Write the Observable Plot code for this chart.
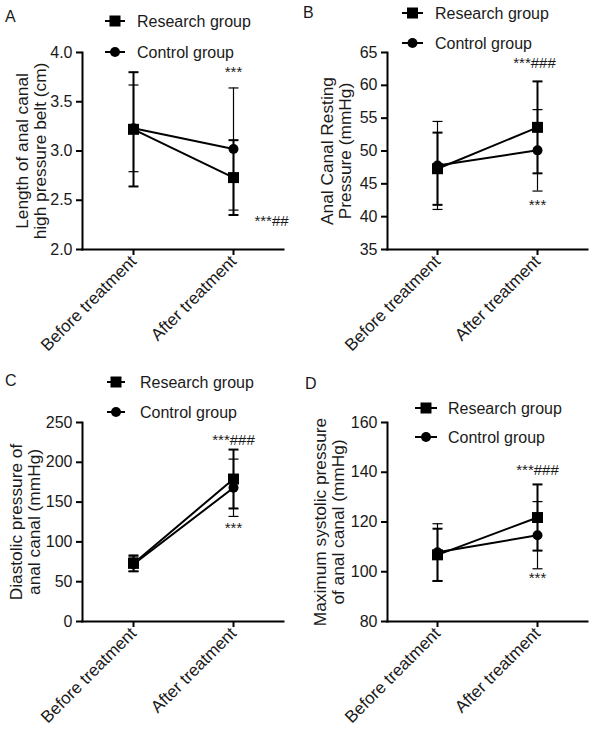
<!DOCTYPE html>
<html>
<head>
<meta charset="utf-8">
<script src="https://cdn.jsdelivr.net/npm/d3@7"></script>
<script src="https://cdn.jsdelivr.net/npm/@observablehq/plot@0.6"></script>
<style>
  html, body { margin: 0; padding: 0; background: white; }
  #root { position: relative; width: 600px; height: 731px; font-family: "Liberation Sans", Arial, sans-serif; }
  .panel { position: absolute; }
  #overlay { position: absolute; left: 0; top: 0; pointer-events: none; }
</style>
</head>
<body>
<div id="root"></div>
<script>
// ---------- data ----------
const categories = ["Before treatment", "After treatment"];
const groups = ["Research group", "Control group"];

// A: length of anal canal high pressure belt (cm)
const lengthResearch = [3.22, 2.73];
const lengthResearchSD = [0.58, 0.38];
const lengthControl = [3.23, 3.02];
const lengthControlSD = [0.44, 0.62];
const lengthTicks = [2.0, 2.5, 3.0, 3.5, 4.0];
const lengthAnnotations = [
  {cat: "After treatment", y: 3.80, text: "***", dx: 0},
  {cat: "After treatment", y: 2.29, text: "***##", dx: 38}
];

// B: anal canal resting pressure (mmHg)
const restingResearch = [47.3, 53.6];
const restingResearchSD = [5.5, 7.0];
const restingControl = [47.8, 50.1];
const restingControlSD = [6.7, 6.2];
const restingTicks = [35, 40, 45, 50, 55, 60, 65];
const restingAnnotations = [
  {cat: "After treatment", y: 63.3, text: "***###", dx: -3},
  {cat: "After treatment", y: 41.8, text: "***", dx: 0}
];

// C: diastolic pressure of anal canal (mmHg)
const diastolicResearch = [73, 179];
const diastolicResearchSD = [10, 37];
const diastolicControl = [72, 168];
const diastolicControlSD = [9, 36];
const diastolicTicks = [0, 50, 100, 150, 200, 250];
const diastolicAnnotations = [
  {cat: "After treatment", y: 228, text: "***###", dx: 0},
  {cat: "After treatment", y: 117, text: "***", dx: 0}
];

// D: maximum systolic pressure of anal canal (mmHg)
const systolicResearch = [106.8, 121.8];
const systolicResearchSD = [10.5, 13.3];
const systolicControl = [107.8, 114.7];
const systolicControlSD = [11.5, 13.5];
const systolicTicks = [80, 100, 120, 140, 160];
const systolicAnnotations = [
  {cat: "After treatment", y: 141, text: "***###", dx: 0},
  {cat: "After treatment", y: 97.5, text: "***", dx: 0}
];

const yTitles = {
  A: "Length of anal canal\nhigh pressure belt (cm)",
  B: "Anal Canal Resting\nPressure (mmHg)",
  C: "Diastolic pressure of\nanal canal (mmHg)",
  D: "Maximum systolic pressure\nof anal canal (mmHg)"
};

// ---------- layout ----------
const FONT = "'Liberation Sans', Arial, sans-serif";
const INK = "#1a1a1a";

const panels = [
  {id: "A", left: 0, top: 0, w: 300, h: 365, mt: 52, mb: 116, ml: 82, mr: 17,
   domain: [2, 4], ticks: lengthTicks, fmt: d3.format(".1f"),
   r: lengthResearch, rsd: lengthResearchSD, c: lengthControl, csd: lengthControlSD,
   ann: lengthAnnotations, titleDx: -51,
   legend: {x1: 105, x2: 125, yR: 21, yC: 52, tx: 137}, letter: {x: 5, y: 22}},
  {id: "B", left: 300, top: 0, w: 300, h: 365, mt: 52, mb: 116, ml: 87, mr: 13,
   domain: [35, 65], ticks: restingTicks, fmt: d3.format("d"),
   r: restingResearch, rsd: restingResearchSD, c: restingControl, csd: restingControlSD,
   ann: restingAnnotations, titleDx: -51,
   legend: {x1: 402, x2: 423, yR: 13, yC: 43, tx: 435}, letter: {x: 303, y: 18}},
  {id: "C", left: 0, top: 365, w: 300, h: 366, mt: 57, mb: 110, ml: 82, mr: 17,
   domain: [0, 250], ticks: diastolicTicks, fmt: d3.format("d"),
   r: diastolicResearch, rsd: diastolicResearchSD, c: diastolicControl, csd: diastolicControlSD,
   ann: diastolicAnnotations, titleDx: -57,
   legend: {x1: 107, x2: 125, yR: 382, yC: 412, tx: 140}, letter: {x: 5, y: 386}},
  {id: "D", left: 300, top: 365, w: 300, h: 366, mt: 57, mb: 110, ml: 87, mr: 13,
   domain: [80, 160], ticks: systolicTicks, fmt: d3.format("d"),
   r: systolicResearch, rsd: systolicResearchSD, c: systolicControl, csd: systolicControlSD,
   ann: systolicAnnotations, titleDx: -58,
   legend: {x1: 415, x2: 437, yR: 408, yC: 437, tx: 448}, letter: {x: 305, y: 389}}
];

const capSymbol = {
  draw(ctx, size) {
    const w = Math.sqrt(size / Math.PI);
    ctx.moveTo(-w, 0);
    ctx.lineTo(w, 0);
  }
};

const root = document.getElementById("root");

for (const p of panels) {
  const research = categories.map((cat, i) => ({cat, group: groups[0], mean: p.r[i], sd: p.rsd[i]}));
  const control = categories.map((cat, i) => ({cat, group: groups[1], mean: p.c[i], sd: p.csd[i]}));
  const rows = [...research, ...control];
  const caps = rows.flatMap(d => [
    {cat: d.cat, group: d.group, v: d.mean + d.sd},
    {cat: d.cat, group: d.group, v: d.mean - d.sd}
  ]);
  const sw = d => d.group === groups[0] ? 2 : 1.2;

  const chart = Plot.plot({
    width: p.w, height: p.h,
    marginTop: p.mt, marginBottom: p.mb, marginLeft: p.ml, marginRight: p.mr,
    style: {fontFamily: FONT, fontSize: "16px", color: INK, background: "transparent", overflow: "visible"},
    x: {type: "point", domain: categories, padding: 0.5},
    y: {domain: p.domain},
    marks: [
      Plot.axisY({ticks: p.ticks, tickFormat: p.fmt, tickSize: 6, strokeWidth: 2, tickPadding: 4, fontSize: 16, label: null, stroke: "black"}),
      Plot.axisX({tickRotate: -45, tickSize: 6, strokeWidth: 2, tickPadding: 3, fontSize: 17, label: null, stroke: "black"}),
      Plot.ruleX(rows, {x: "cat", y1: d => d.mean - d.sd, y2: d => d.mean + d.sd, stroke: "black", strokeWidth: sw}),
      Plot.dot(caps, {x: "cat", y: "v", symbol: capSymbol, r: 5, fill: "none", stroke: "black", strokeWidth: sw}),
      Plot.line(research, {x: "cat", y: "mean", stroke: "black", strokeWidth: 2}),
      Plot.line(control, {x: "cat", y: "mean", stroke: "black", strokeWidth: 2}),
      Plot.dot(research, {x: "cat", y: "mean", symbol: "square", r: 6.2, fill: "black", stroke: "none"}),
      Plot.dot(control, {x: "cat", y: "mean", symbol: "circle", r: 5, fill: "black", stroke: "none"}),
      ...p.ann.map(a => Plot.text([a], {x: "cat", y: "y", text: "text", dx: a.dx, fontSize: 15, fill: INK})),
      Plot.text([yTitles[p.id]], {frameAnchor: "left", text: d => d, rotate: -90, dx: p.titleDx, lineAnchor: "middle", textAnchor: "middle", fontSize: 17.3, fill: INK}),
      Plot.frame({anchor: "left", stroke: "black", strokeWidth: 2}),
      Plot.frame({anchor: "bottom", stroke: "black", strokeWidth: 2})
    ]
  });
  const div = document.createElement("div");
  div.className = "panel";
  div.style.left = p.left + "px";
  div.style.top = p.top + "px";
  div.appendChild(chart);
  root.appendChild(div);
}

// ---------- legends & panel letters ----------
const overlay = d3.select(root).append("svg")
  .attr("id", "overlay").attr("width", 600).attr("height", 731)
  .style("font-family", FONT);

for (const p of panels) {
  const L = p.legend;
  const items = [{name: groups[0], y: L.yR, shape: "square"}, {name: groups[1], y: L.yC, shape: "circle"}];
  for (const it of items) {
    overlay.append("line").attr("x1", L.x1).attr("x2", L.x2).attr("y1", it.y).attr("y2", it.y)
      .attr("stroke", "black").attr("stroke-width", 2);
    const cx = (L.x1 + L.x2) / 2;
    if (it.shape === "square") {
      overlay.append("rect").attr("x", cx - 5.5).attr("y", it.y - 5.5).attr("width", 11).attr("height", 11).attr("fill", "black");
    } else {
      overlay.append("circle").attr("cx", cx).attr("cy", it.y).attr("r", 5).attr("fill", "black");
    }
    overlay.append("text").attr("x", L.tx).attr("y", it.y).attr("dy", "0.35em")
      .attr("font-size", 16).attr("fill", INK).text(it.name);
  }
  overlay.append("text").attr("x", p.letter.x).attr("y", p.letter.y)
    .attr("font-size", 16).attr("fill", INK).text(p.id);
}
</script>
</body>
</html>
